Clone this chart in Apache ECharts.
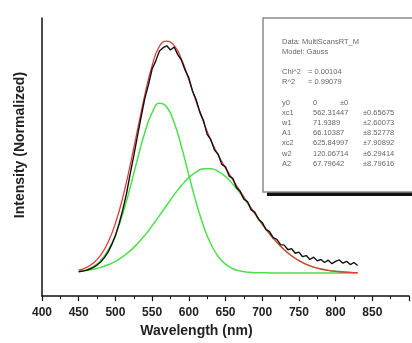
<!DOCTYPE html>
<html>
<head>
<meta charset="utf-8">
<script src="https://cdn.jsdelivr.net/npm/echarts@6/dist/echarts.min.js"></script>
<style>html,body{margin:0;padding:0;background:#fff}#c{width:412px;height:343px}</style>
</head>
<body>
<div id="c"></div>
<script>
// Measured spectrum (5 nm steps)
var dataWl = [450,455,460,465,470,475,480,485,490,495,500,505,510,515,520,525,530,535,540,545,550,555,560,565,570,575,580,585,590,595,600,605,610,615,620,625,630,635,640,645,650,655,660,665,670,675,680,685,690,695,700,705,710,715,720,725,730,735,740,745,750,755,760,765,770,775,780,785,790,795,800,805,810,815,820,825,830];
var dataVal = [0.005,0.008,0.011,0.017,0.024,0.034,0.047,0.066,0.090,0.122,0.160,0.212,0.272,0.340,0.425,0.505,0.590,0.672,0.752,0.812,0.880,0.915,0.958,0.972,0.980,0.962,0.975,0.942,0.918,0.875,0.842,0.785,0.748,0.695,0.658,0.598,0.575,0.530,0.512,0.468,0.458,0.418,0.408,0.368,0.352,0.318,0.308,0.272,0.262,0.232,0.218,0.188,0.178,0.152,0.145,0.122,0.120,0.100,0.105,0.085,0.090,0.070,0.075,0.058,0.068,0.052,0.058,0.045,0.055,0.040,0.050,0.056,0.042,0.050,0.036,0.045,0.032];
// Fitted curves (10 nm steps)
var fitWl = [450,460,470,480,490,500,510,520,530,540,550,560,570,580,590,600,610,620,630,640,650,660,670,680,690,700,710,720,730,740,750,760,770,780,790,800,810,820,830];
var fitSum = [0.012,0.023,0.043,0.077,0.132,0.214,0.325,0.463,0.616,0.767,0.894,0.978,1.000,0.982,0.922,0.834,0.739,0.651,0.574,0.509,0.453,0.402,0.352,0.304,0.256,0.211,0.169,0.132,0.100,0.074,0.053,0.037,0.025,0.017,0.011,0.007,0.004,0.002,0.001];
var peak1 = [0.006,0.013,0.027,0.054,0.097,0.164,0.255,0.367,0.490,0.605,0.691,0.732,0.716,0.649,0.545,0.423,0.304,0.203,0.125,0.071,0.038,0.018,0.008,0.003,0.001,0.001,0.000,0.000,0.000,0.000,0.000,0.000,0.000,0.000,0.000,0.000,0.000,0.000,0.000];
var peak2 = [0.006,0.010,0.016,0.024,0.035,0.050,0.070,0.095,0.126,0.162,0.203,0.247,0.292,0.337,0.377,0.411,0.435,0.449,0.450,0.438,0.416,0.383,0.344,0.300,0.255,0.210,0.169,0.132,0.100,0.074,0.053,0.037,0.025,0.017,0.011,0.007,0.004,0.002,0.001];
var xTicks = [400,450,500,550,600,650,700,750,800,850];
var boxLines = [
  ["Data: MultiScansRT_M", "", ""],
  ["Model: Gauss", "", ""],
  ["", "", ""],
  ["Chi^2", "= 0.00104", ""],
  ["R^2", "= 0.99079", ""],
  ["", "", ""],
  ["y0", "0", "±0"],
  ["xc1", "562.31447", "±0.65675"],
  ["w1", "71.9389", "±2.60073"],
  ["A1", "66.10387", "±8.52778"],
  ["xc2", "625.84997", "±7.90892"],
  ["w2", "120.06714", "±6.29414"],
  ["A2", "67.79642", "±8.79616"]
];

function pairs(xs, ys){ return xs.map(function(x,i){ return [x, ys[i]]; }); }

var chart = echarts.init(document.getElementById('c'));
var graphics = [
  {type:'rect', shape:{x:267,y:191,width:160,height:5}, style:{fill:'#111'}, z:100},
  {type:'rect', shape:{x:263,y:18,width:160,height:174}, style:{fill:'#fff', stroke:'#8a8a8a', lineWidth:1.5}, z:101}
];
var rowY = [42,52,62,72,82,93,103,113,123,133,143,154,164];
boxLines.forEach(function(r,i){
  var cols = (i===3||i===4) ? [282,308,0] : [282,313,363];
  if (i===6) cols = [282,313,340];
  r.forEach(function(t,j){
    if (!t) return;
    graphics.push({type:'text', x:cols[j], y:rowY[i], z:102,
      style:{text:t, fill:'#666', font:'7.5px "Liberation Sans", Arial, sans-serif', textVerticalAlign:'middle'}});
  });
});

chart.setOption({
  animation:false,
  grid:{left:42, right:-19, top:18, bottom:46},
  xAxis:{
    type:'value', min:400, max:900, interval:50,
    axisLine:{show:true, onZero:false, lineStyle:{color:'#111', width:1.5}},
    axisTick:{show:true, inside:false, length:5, lineStyle:{color:'#111', width:1.2}},
    minorTick:{show:true, splitNumber:2, length:3, lineStyle:{color:'#111', width:1}},
    splitLine:{show:false},
    axisLabel:{margin:11, color:'#222', fontSize:12, fontWeight:'bold', fontFamily:'"Liberation Sans", Arial, sans-serif',
      formatter:function(v){ return xTicks.indexOf(v)>=0 ? String(v) : ''; }},
    name:'Wavelength (nm)', nameLocation:'middle', nameGap:24,
    nameTextStyle:{color:'#222', fontSize:14, fontWeight:'bold', fontFamily:'"Liberation Sans", Arial, sans-serif', padding:[0,58,0,0]}
  },
  yAxis:{
    type:'value', min:-0.1, max:1.1,
    axisLine:{show:true, onZero:false, lineStyle:{color:'#111', width:1.5}},
    axisTick:{show:false}, axisLabel:{show:false}, splitLine:{show:false},
    name:'Intensity (Normalized)', nameLocation:'middle', nameGap:15,
    nameTextStyle:{color:'#222', fontSize:14, fontWeight:'bold', fontFamily:'"Liberation Sans", Arial, sans-serif', padding:[0,0,0,24]}
  },
  series:[
    {type:'line', data:pairs(fitWl, peak1), showSymbol:false, smooth:true, lineStyle:{color:'#4ae04a', width:1.5}, z:2},
    {type:'line', data:pairs(fitWl, peak2), showSymbol:false, smooth:true, lineStyle:{color:'#4ae04a', width:1.5}, z:2},
    {type:'line', data:pairs(fitWl, fitSum), showSymbol:false, smooth:true, lineStyle:{color:'#e03c3c', width:1.3}, z:3},
    {type:'line', data:pairs(dataWl, dataVal), showSymbol:false, lineStyle:{color:'#111', width:1.4}, z:4}
  ],
  graphic:graphics
});
</script>
</body>
</html>
